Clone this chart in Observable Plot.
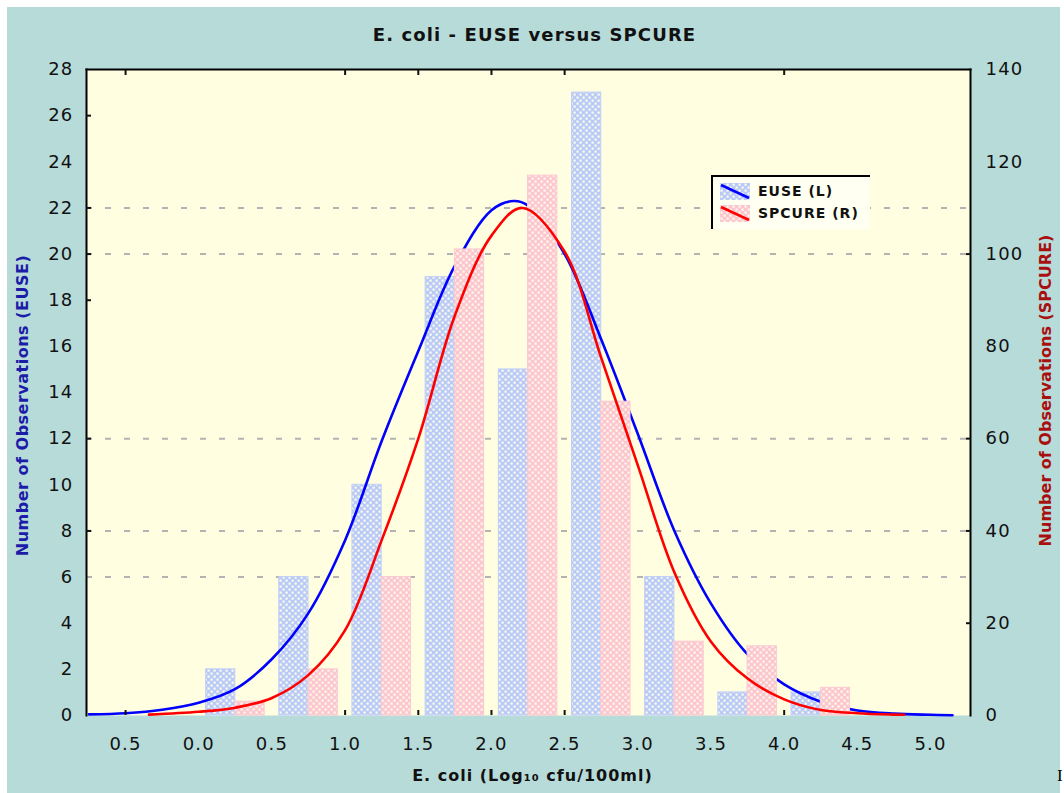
<!DOCTYPE html>
<html>
<head>
<meta charset="utf-8">
<script src="https://cdn.jsdelivr.net/npm/d3@7"></script>
<script src="https://cdn.jsdelivr.net/npm/@observablehq/plot@0.6"></script>
<style>
  body { margin: 0; background: #ffffff; }
  #wrap { position: relative; width: 1064px; height: 793px; overflow: hidden; }
  #bg { position: absolute; left: 7px; top: 7px; width: 1053px; height: 786px; background: #b7dbd9; }
  #chart { position: absolute; left: 0; top: 0; }
  #legend { position: absolute; left: 711px; top: 175px; width: 157px; height: 52px;
            background: #fffff2; border-left: 2px solid #000; border-top: 2px solid #000;
            font-family: "DejaVu Sans", sans-serif; font-weight: bold; font-size: 14px; letter-spacing: 1px; color: #111; }
  .row { position: absolute; left: 7px; height: 18px; display: flex; align-items: center; }
  .row svg { margin-right: 8px; }
  #stray { position: absolute; left: 1057px; top: 766px; font-family: "Liberation Serif", serif; font-size: 17px; color: #000; }
  #chart svg g[aria-label$="tick label"] text { letter-spacing: 1.2px; }
</style>
</head>
<body>
<svg width="0" height="0" style="position:absolute">
  <defs>
    <pattern id="blueCheck" width="6" height="6" patternUnits="userSpaceOnUse">
      <rect width="6" height="6" fill="#b9c9f8"/>
      <rect x="0.5" y="0.5" width="2.2" height="2.2" fill="#fcfde8"/>
      <rect x="3.5" y="3.5" width="2.2" height="2.2" fill="#fcfde8"/>
    </pattern>
    <pattern id="pinkCheck" width="6" height="6" patternUnits="userSpaceOnUse">
      <rect width="6" height="6" fill="#fcc6d0"/>
      <rect x="0.5" y="0.5" width="2.2" height="2.2" fill="#fffbe8"/>
      <rect x="3.5" y="3.5" width="2.2" height="2.2" fill="#fffbe8"/>
    </pattern>
  </defs>
</svg>
<div id="wrap">
  <div id="bg"></div>
  <div id="chart"></div>
  <div id="legend">
    <div class="row" style="top:5px">
      <svg width="30" height="17"><rect width="30" height="17" fill="url(#blueCheck)"/><line x1="1" y1="2" x2="29" y2="15" stroke="#0000ff" stroke-width="2.5"/></svg>
      <span>EUSE (L)</span>
    </div>
    <div class="row" style="top:27px">
      <svg width="30" height="17"><rect width="30" height="17" fill="url(#pinkCheck)"/><line x1="1" y1="2" x2="29" y2="15" stroke="#ff0000" stroke-width="2.5"/></svg>
      <span>SPCURE (R)</span>
    </div>
  </div>
  <div id="stray">I</div>
</div>
<script>
// ---- data ----
const titleText = "E. coli - EUSE versus SPCURE";
const xLabelText = "E. coli (Log₁₀ cfu/100ml)";
const yLabelLeft = "Number of Observations (EUSE)";
const yLabelRight = "Number of Observations (SPCURE)";

// histogram bins (centres, log10 cfu/100ml)
const binCenters = [0.25, 0.75, 1.25, 1.75, 2.25, 2.75, 3.25, 3.75, 4.25];
const euseCounts = [2, 6, 10, 19, 15, 27, 6, 1, 1];          // left axis
const spcureCounts = [3, 10, 30, 101, 117, 68, 16, 15, 6];    // right axis

// fitted curves
const euseCurveX = [-0.75, -0.5, -0.25, 0, 0.25, 0.5, 0.75, 1, 1.25, 1.5, 1.75, 2, 2.15, 2.25, 2.5, 2.75, 3, 3.25, 3.5, 3.75, 4, 4.25, 4.5, 4.75, 5, 5.15];
const euseCurveY = [0.05, 0.1, 0.25, 0.55, 1.15, 2.45, 4.45, 7.6, 11.9, 15.8, 19.5, 21.9, 22.3, 22.1, 20.0, 16.3, 12.2, 8.0, 4.85, 2.65, 1.35, 0.6, 0.22, 0.08, 0.03, 0.01];
const spcureCurveX = [-0.34, 0, 0.25, 0.5, 0.75, 1, 1.25, 1.5, 1.75, 2, 2.21, 2.5, 2.75, 3, 3.25, 3.5, 3.75, 4, 4.25, 4.5, 4.75, 4.82];
const spcureCurveY = [0.2, 0.8, 1.7, 3.8, 8.8, 18.5, 38, 60, 86.7, 104, 110, 100.5, 77.5, 54.2, 31, 16, 8, 3.5, 1.2, 0.5, 0.2, 0.15];

// ticks
const xTicks = [-0.5, 0, 0.5, 1, 1.5, 2, 2.5, 3, 3.5, 4, 4.5, 5];
const xTickLabels = ["0.5", "0.0", "0.5", "1.0", "1.5", "2.0", "2.5", "3.0", "3.5", "4.0", "4.5", "5.0"];
const yTicksLeft = [0, 2, 4, 6, 8, 10, 12, 14, 16, 18, 20, 22, 24, 26, 28];
const yTicksRight = [0, 20, 40, 60, 80, 100, 120, 140];
const xTickMarks = [-0.5, 1, 1.5, 2, 2.5, 4];
const leftTickMarks = [8, 12, 18, 20, 22, 26];
const rightTickMarks = [20, 40, 60, 100];
const gridLeft = [6, 8, 12, 20, 22];

// ---- build ----
const RATIO = 140 / 28;   // right axis / left axis
const BARW = 0.2;
const barsE = binCenters.map((c, i) => ({c, v: euseCounts[i]}));
const barsS = binCenters.map((c, i) => ({c, v: spcureCounts[i]}));
const curveE = euseCurveX.map((x, i) => ({x, y: euseCurveY[i]}));
const curveS = spcureCurveX.map((x, i) => ({x, y: spcureCurveY[i]}));
const xLabelMap = new Map(xTicks.map((t, i) => [t, xTickLabels[i]]));

const fontTick = 18;
const chart = Plot.plot({
  width: 1064,
  height: 793,
  marginLeft: 86,
  marginRight: 94,
  marginTop: 69,
  marginBottom: 78,
  style: {background: "transparent", fontFamily: "DejaVu Sans, sans-serif", fontSize: "18px", color: "#111"},
  x: {domain: [-0.767, 5.273], axis: null},
  y: {domain: [0, 28], axis: null},
  marks: [
    Plot.frame({fill: "#fffee1", stroke: "none"}),
    Plot.ruleY(gridLeft, {stroke: "#b3b3b3", strokeWidth: 2, strokeDasharray: "6,13"}),
    Plot.rect(barsE, {x1: d => d.c - BARW, x2: d => d.c, y1: 0, y2: "v", fill: "url(#blueCheck)", stroke: "#c2cff8", strokeWidth: 1}),
    Plot.line(curveE, {x: "x", y: "y", stroke: "#0000ff", strokeWidth: 2.6, curve: "catmull-rom"}),
    Plot.rect(barsS, {x1: d => d.c, x2: d => d.c + BARW, y1: 0, y2: d => d.v / RATIO, fill: "url(#pinkCheck)", stroke: "#fbc9d2", strokeWidth: 1}),
    Plot.line(curveS, {x: "x", y: d => d.y / RATIO, stroke: "#ff0000", strokeWidth: 2.6, curve: "catmull-rom"}),
    // borders
    Plot.frame({anchor: "left", stroke: "#000", strokeWidth: 2}),
    Plot.frame({anchor: "top", stroke: "#000", strokeWidth: 2}),
    Plot.frame({anchor: "right", stroke: "#000", strokeWidth: 2}),
    // tick labels
    Plot.axisY(yTicksLeft, {anchor: "left", tickSize: 0, tickPadding: 13, fontSize: fontTick, label: null}),
    Plot.axisY(yTicksRight.map(v => v / RATIO), {anchor: "right", tickSize: 0, tickPadding: 15, fontSize: fontTick, tickFormat: d => String(Math.round(d * RATIO)), label: null}),
    Plot.axisX(xTicks, {anchor: "bottom", tickSize: 0, tickPadding: 22, fontSize: fontTick, tickFormat: d => xLabelMap.get(d), label: null}),
    // inward tick marks
    Plot.axisY(leftTickMarks, {anchor: "left", tickSize: -5, strokeWidth: 2, tickFormat: () => "", label: null}),
    Plot.axisY(rightTickMarks.map(v => v / RATIO), {anchor: "right", tickSize: -5, strokeWidth: 2, tickFormat: () => "", label: null}),
    Plot.axisX(xTickMarks, {anchor: "bottom", tickSize: -5, strokeWidth: 2, tickFormat: () => "", label: null}),
    Plot.axisX(xTickMarks, {anchor: "top", tickSize: -5, strokeWidth: 2, tickFormat: () => "", label: null}),
    // titles
    Plot.text([titleText], {frameAnchor: "top", dx: 6, dy: -34, fontSize: 18, fontWeight: "bold", fill: "#111", lineAnchor: "middle", textAnchor: "middle"}),
    Plot.text([xLabelText], {frameAnchor: "bottom", dx: 4, dy: 60, fontSize: 16, fontWeight: "bold", fill: "#111", lineAnchor: "middle", textAnchor: "middle"}),
    Plot.text([yLabelLeft], {frameAnchor: "left", dx: -64, dy: 13, rotate: -90, fontSize: 16, fontWeight: "bold", fill: "#1c1ca8", lineAnchor: "middle", textAnchor: "middle"}),
    Plot.text([yLabelRight], {frameAnchor: "right", dx: 75, dy: -2, rotate: -90, fontSize: 16, fontWeight: "bold", fill: "#a81010", lineAnchor: "middle", textAnchor: "middle"})
  ]
});
// spacing to mimic the wide bitmap font of the original
d3.select(chart).selectAll("text").each(function () {
  const t = this.textContent;
  if (t === titleText) this.style.letterSpacing = "1.1px";
  else if (t === xLabelText) this.style.letterSpacing = "1px";
  else if (t === yLabelLeft) this.style.letterSpacing = "0.5px";
});
document.getElementById("chart").appendChild(chart);
</script>
</body>
</html>
